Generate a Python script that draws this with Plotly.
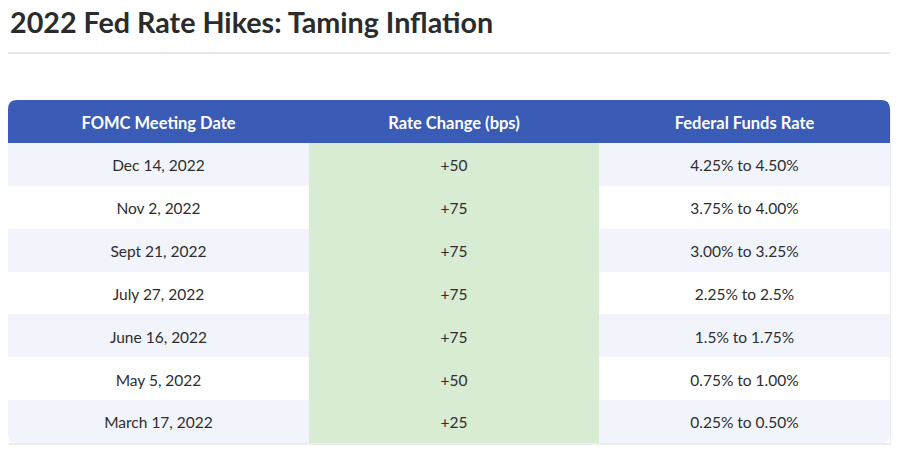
import plotly.graph_objects as go

W, H = 900, 453

dates = ["Dec 14, 2022", "Nov 2, 2022", "Sept 21, 2022", "July 27, 2022",
         "June 16, 2022", "May 5, 2022", "March 17, 2022"]
changes = ["+50", "+75", "+75", "+75", "+75", "+50", "+25"]
fed_rates = ["4.25% to 4.50%", "3.75% to 4.00%", "3.00% to 3.25%", "2.25% to 2.5%",
             "1.5% to 1.75%", "0.75% to 1.00%", "0.25% to 0.50%"]
headers = ["FOMC Meeting Date", "Rate Change (bps)", "Federal Funds Rate"]

BLUE = "#3a5bb6"
STRIPE = "#f1f4fb"
GREEN = "#d8ebd3"
TEXT = "#2e2e2e"
FONT = "Lato"

# table box in pixels (header row + data rows share one height)
x0, x1 = 8, 890
y_top, y_bot = 100, 443
col_w = [301, 290, 291]
col_start = [sum(col_w[:i]) for i in range(3)]
col_mid = [s + w / 2 for s, w in zip(col_start, col_w)]

n = len(dates)
rows = list(range(n + 1))          # 0 = header
row_px = (y_bot - y_top) / len(rows)
nudge = 3 / row_px                 # text sits a little low in the cell
stripes = [BLUE] + [STRIPE if i % 2 == 0 else "white" for i in range(n)]
greens = [BLUE] + [GREEN] * n
fills = [stripes, greens, stripes]

fig = go.Figure()

# cell backgrounds, one bar trace per column
for c in range(3):
    fig.add_trace(go.Bar(
        orientation="h", y=rows, x=[col_w[c]] * len(rows), base=[col_start[c]] * len(rows),
        width=1, marker=dict(color=fills[c], line=dict(width=0)),
        hoverinfo="skip", showlegend=False,
    ))

# header text
fig.add_trace(go.Scatter(
    x=col_mid, y=[nudge] * 3, mode="text",
    text=["<b>%s</b>" % h for h in headers],
    textfont=dict(family=FONT, size=16.5, color="white"),
    hoverinfo="skip", showlegend=False,
))

# body text
for c, col in enumerate([dates, changes, fed_rates]):
    fig.add_trace(go.Scatter(
        x=[col_mid[c]] * n, y=[r + nudge for r in rows[1:]], mode="text", text=col,
        textfont=dict(family=FONT, size=15.5, color=TEXT),
        hoverinfo="skip", showlegend=False,
    ))


def px(x, y):
    return "%.5f,%.5f" % (x / W, 1 - y / H)


def corner(cx, cy, dx, dy, r=9):
    # white mask outside a rounded corner
    return dict(
        type="path", xref="paper", yref="paper", layer="above",
        path="M %s L %s Q %s %s Z" % (px(cx, cy), px(cx + dx * r, cy), px(cx, cy), px(cx, cy + dy * r)),
        fillcolor="white", line=dict(width=0),
    )


shapes = [
    dict(type="line", xref="paper", yref="paper",
         x0=x0 / W, x1=x1 / W, y0=1 - 53 / H, y1=1 - 53 / H,
         line=dict(color="#dedede", width=1.5)),
    # soft shadow under the table
    dict(type="rect", xref="paper", yref="paper", layer="below",
         x0=(x0 + 1) / W, x1=(x1 + 1) / W, y0=1 - (y_bot + 2) / H, y1=1 - (y_top + 10) / H,
         fillcolor="#ececec", line=dict(width=0)),
    corner(x0, y_top, 1, 1), corner(x1, y_top, -1, 1),
    corner(x0, y_bot, 1, -1), corner(x1, y_bot, -1, -1),
]

fig.update_layout(
    width=W, height=H,
    margin=dict(l=0, r=0, t=0, b=0),
    paper_bgcolor="white", plot_bgcolor="rgba(0,0,0,0)",
    bargap=0, barmode="overlay",
    xaxis=dict(domain=[x0 / W, x1 / W], range=[0, sum(col_w)], visible=False, fixedrange=True),
    yaxis=dict(domain=[1 - y_bot / H, 1 - y_top / H], range=[n + 0.5, -0.5],
               visible=False, fixedrange=True),
    shapes=shapes,
    annotations=[dict(
        text="<b>2022 Fed Rate Hikes: Taming Inflation</b>",
        xref="paper", yref="paper", x=x0 / W, y=1 - 3 / H,
        xanchor="left", yanchor="top", showarrow=False,
        font=dict(family=FONT, size=28.7, color="#2b2b2b"),
    )],
)

fig.write_html("out.html", config={"displayModeBar": False},
               post_script="document.body.style.margin='0';")
